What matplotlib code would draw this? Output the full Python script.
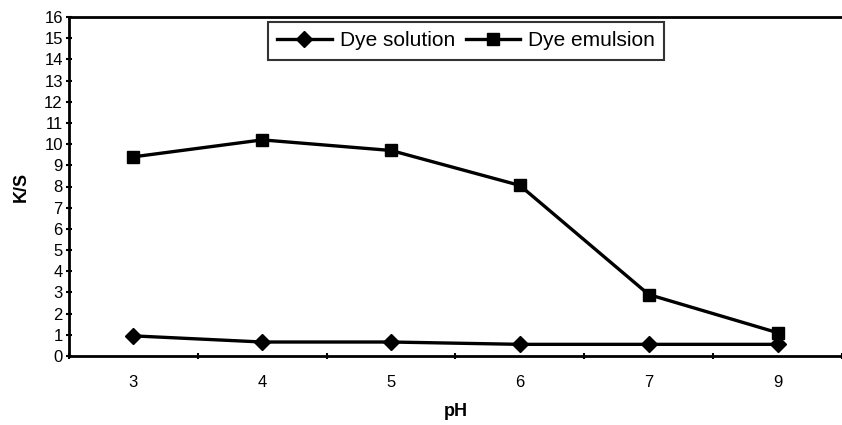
import numpy as np
import matplotlib
matplotlib.use("Agg")
import matplotlib.pyplot as plt

plt.rcParams['font.family'] = ['Liberation Sans', 'DejaVu Sans']

# pH categories and K/S values
ph_labels = ['3', '4', '5', '6', '7', '9']
dye_solution = [0.95, 0.66, 0.66, 0.55, 0.55, 0.55]
dye_emulsion = [9.4, 10.2, 9.7, 8.05, 2.9, 1.1]

x = np.arange(len(ph_labels))

fig = plt.figure(figsize=(8.42, 4.25), dpi=100)
ax = fig.add_axes([69/842, 1 - 356/425, 1 - 69/842, (356 - 17)/425])

ax.plot(x, dye_solution, color='black', lw=2.4, marker='D', ms=8.5,
        label='Dye solution', clip_on=False)
ax.plot(x, dye_emulsion, color='black', lw=2.4, marker='s', ms=8,
        label='Dye emulsion', clip_on=False)

ax.set_xlim(-0.5, 5.45)
ax.set_ylim(0, 16)
ax.set_yticks(range(0, 17))
ax.set_xticks(x)
ax.set_xticklabels(ph_labels)
ax.set_xticks(np.arange(-0.5, 5.6, 1), minor=True)
ax.tick_params(axis='x', which='major', length=0, pad=14, labelsize=12)
ax.tick_params(axis='x', which='minor', length=5, width=1.5, direction='inout')
ax.tick_params(axis='y', length=5, width=1.5, direction='inout', labelsize=12, pad=2)

ax.spines['right'].set_visible(False)
for s in ['left', 'bottom', 'top']:
    ax.spines[s].set_linewidth(2)

ax.set_xlabel('pH', fontsize=13, fontweight='bold', labelpad=9)
ax.set_ylabel('K/S', fontsize=13, fontweight='bold', labelpad=10)

leg = ax.legend(ncol=2, loc='upper left', bbox_to_anchor=(199/773, 0.985),
                fontsize=15, frameon=True, fancybox=False, handlelength=2.6,
                borderpad=0.45, columnspacing=0.5, handletextpad=0.4,
                borderaxespad=0)
leg.get_frame().set_edgecolor('black')
leg.get_frame().set_linewidth(1.5)

fig.savefig('out.png', dpi=100)
